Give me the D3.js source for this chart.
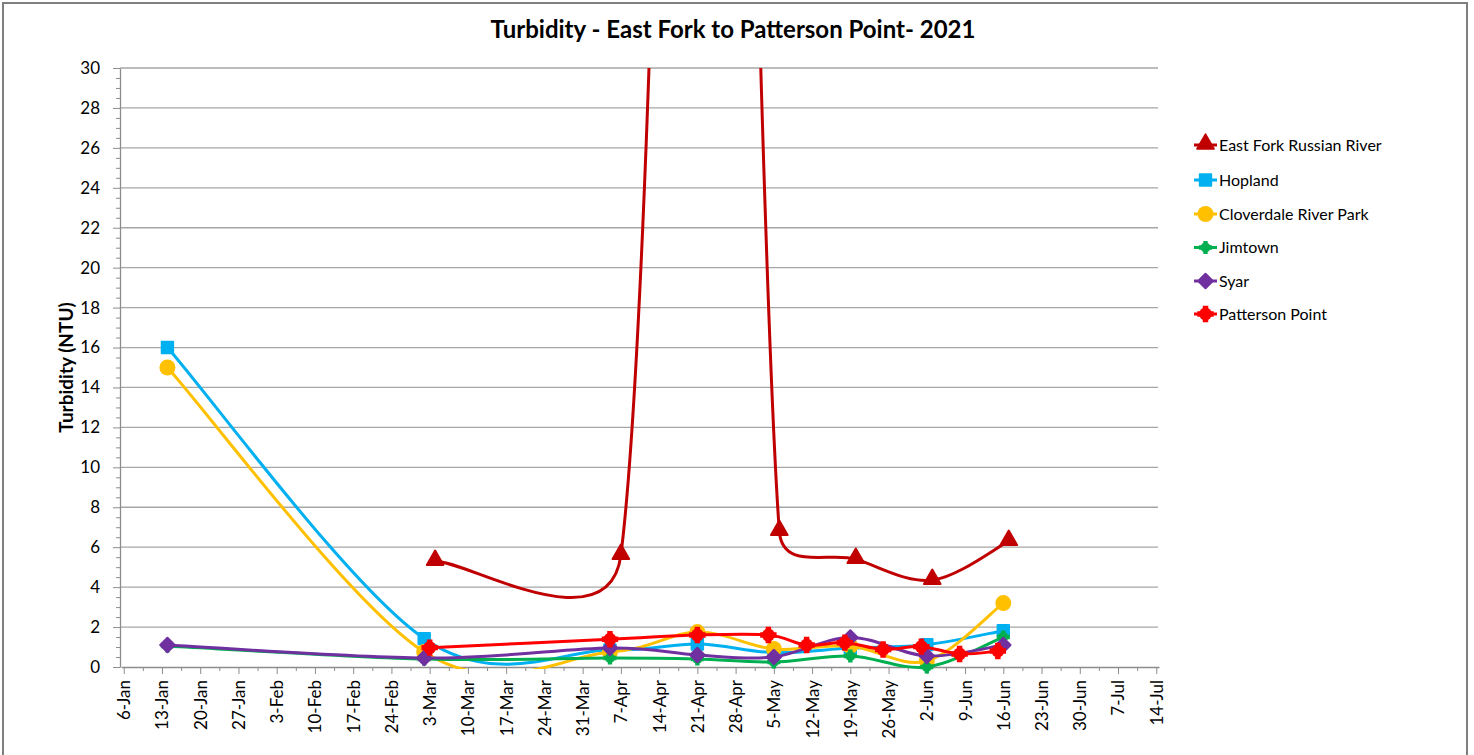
<!DOCTYPE html>
<html>
<head>
<meta charset="utf-8">
<script src="https://cdn.jsdelivr.net/npm/d3@7"></script>
<style>
  body { margin: 0; background: #fff; }
  svg { display: block; font-family: Lato, "Open Sans", sans-serif; }
</style>
</head>
<body>
<svg id="chart" width="1474" height="755"></svg>
<script>
// Sampling dates and readings (NTU)
const sampleDates = ["2021-01-14", "2021-03-02", "2021-04-05", "2021-04-21", "2021-05-05", "2021-05-19", "2021-06-02", "2021-06-16"];
const eastForkDates = ["2021-03-04", "2021-04-07", "2021-04-22", "2021-05-06", "2021-05-20", "2021-06-03", "2021-06-17"];
const pattersonDates = ["2021-03-03", "2021-04-05", "2021-04-21", "2021-05-04", "2021-05-11", "2021-05-18", "2021-05-25", "2021-06-01", "2021-06-08", "2021-06-15"];

const eastForkValues = [5.3, 5.6, 112, 6.8, 5.4, 4.35, 6.3];
const hoplandValues = [16, 1.42, 0.85, 1.15, 0.72, 0.95, 1.12, 1.82];
const cloverdaleValues = [15, 0.75, 0.75, 1.75, 0.9, 1.05, 0.3, 3.2];
const jimtownValues = [1.05, 0.4, 0.45, 0.4, 0.25, 0.55, 0.0, 1.5];
const syarValues = [1.1, 0.45, 0.95, 0.6, 0.5, 1.48, 0.55, 1.1];
const pattersonValues = [0.97, 1.39, 1.6, 1.6, 1.1, 1.22, 0.88, 1.02, 0.65, 0.8];

const yTicks = d3.range(0, 31, 2);

const seriesList = [
    { name: "East Fork Russian River", dates: eastForkDates, values: eastForkValues, color: "#C00000", marker: "triangle" },
    { name: "Hopland", dates: sampleDates, values: hoplandValues, color: "#00B0F0", marker: "square" },
    { name: "Cloverdale River Park", dates: sampleDates, values: cloverdaleValues, color: "#FFC000", marker: "circle" },
    { name: "Jimtown", dates: sampleDates, values: jimtownValues, color: "#00B050", marker: "smallstar" },
    { name: "Syar", dates: sampleDates, values: syarValues, color: "#7030A0", marker: "diamond" },
    { name: "Patterson Point", dates: pattersonDates, values: pattersonValues, color: "#FF0000", marker: "star" }
];

const parse = d3.utcParse("%Y-%m-%d");
const svg = d3.select("#chart");

// plot area
const plot = { left: 120, right: 1159, top: 68, bottom: 667 };

const x = d3.scaleUtc()
    .domain([new Date(Date.UTC(2021, 0, 5, 12)), new Date(Date.UTC(2021, 6, 14, 12))])
    .range([plot.left + 1, plot.right]);

const y = d3.scaleLinear()
    .domain([0, 30])
    .range([plot.bottom, plot.top]);

// outer border
svg.append("rect")
    .attr("x", 3).attr("y", 3)
    .attr("width", 1464).attr("height", 770)
    .attr("fill", "none")
    .attr("stroke", "#7f7f7f")
    .attr("stroke-width", 2);

// title
svg.append("text")
    .attr("x", 733).attr("y", 38)
    .attr("text-anchor", "middle")
    .attr("font-weight", "bold")
    .attr("font-size", 24)
    .text("Turbidity - East Fork to Patterson Point- 2021");

// gridlines
svg.append("g")
    .selectAll("line")
    .data(yTicks.filter(d => d > 0))
    .enter()
    .append("line")
    .attr("x1", plot.left).attr("x2", plot.right - 1)
    .attr("y1", d => y(d)).attr("y2", d => y(d))
    .attr("stroke", "#a6a6a6")
    .attr("stroke-width", 1.3);

// y axis
const yMinor = d3.range(0, 30.01, 0.5).filter(d => d % 2 !== 0);
svg.append("g")
    .attr("transform", `translate(${plot.left},0)`)
    .call(d3.axisLeft(y).tickValues(yMinor).tickSize(4).tickFormat("").tickSizeOuter(0))
    .call(g => g.select(".domain").remove())
    .selectAll("line").attr("stroke", "#8c8c8c");

const yAxisG = svg.append("g")
    .attr("transform", `translate(${plot.left},0)`)
    .call(d3.axisLeft(y).tickValues(yTicks).tickSize(7).tickPadding(13).tickSizeOuter(0));
yAxisG.select(".domain").attr("stroke", "#8c8c8c").attr("stroke-width", 1.3);
yAxisG.selectAll(".tick line").attr("stroke", "#8c8c8c");
yAxisG.selectAll("text").attr("font-size", 17).attr("font-family", "Lato").attr("fill", "#000");

// x axis
const weekTicks = d3.utcDay.range(new Date(Date.UTC(2021, 0, 6)), new Date(Date.UTC(2021, 6, 15)), 7);
const halfWeekTicks = weekTicks.slice(0, -1).map(d => d3.utcHour.offset(d, 84));

svg.append("g")
    .attr("transform", `translate(0,${plot.bottom})`)
    .call(d3.axisBottom(x).tickValues(halfWeekTicks).tickSize(4).tickFormat("").tickSizeOuter(0))
    .call(g => g.select(".domain").remove())
    .selectAll("line").attr("stroke", "#8c8c8c");

const xAxisG = svg.append("g")
    .attr("transform", `translate(0,${plot.bottom})`)
    .call(d3.axisBottom(x).tickValues(weekTicks).tickSize(7).tickFormat(d3.utcFormat("%-d-%b")).tickSizeOuter(0));
xAxisG.select(".domain").attr("stroke", "#8c8c8c").attr("stroke-width", 1.3);
xAxisG.selectAll(".tick line").attr("stroke", "#8c8c8c");
xAxisG.selectAll("text")
    .attr("font-size", 17)
    .attr("font-family", "Lato")
    .attr("fill", "#000")
    .attr("transform", "rotate(-90)")
    .attr("text-anchor", "end")
    .attr("x", -13)
    .attr("y", 0)
    .attr("dy", "0.35em");

// y axis title
svg.append("text")
    .attr("transform", `translate(73,${(plot.top + plot.bottom) / 2}) rotate(-90)`)
    .attr("text-anchor", "middle")
    .attr("font-weight", "bold")
    .attr("font-size", 19)
    .text("Turbidity (NTU)");

// clip for lines
svg.append("clipPath").attr("id", "plot-clip")
    .append("rect")
    .attr("x", plot.left).attr("y", plot.top)
    .attr("width", plot.right - plot.left).attr("height", plot.bottom - plot.top + 2);

// Excel style smoothing: Catmull-Rom tangents clamped to half the segment
function excelSmooth(pts) {
    const p = d3.path();
    p.moveTo(pts[0][0], pts[0][1]);
    for (let i = 0; i < pts.length - 1; i++) {
        const p0 = pts[Math.max(i - 1, 0)];
        const p1 = pts[i];
        const p2 = pts[i + 1];
        const p3 = pts[Math.min(i + 2, pts.length - 1)];
        const d12 = Math.hypot(p2[0] - p1[0], p2[1] - p1[1]);
        let t1 = [(p2[0] - p0[0]) / 6, (p2[1] - p0[1]) / 6];
        let t2 = [(p3[0] - p1[0]) / 6, (p3[1] - p1[1]) / 6];
        const l1 = Math.hypot(t1[0], t1[1]);
        const l2 = Math.hypot(t2[0], t2[1]);
        if (l1 > d12 / 2) t1 = t1.map(v => v * (d12 / 2) / l1);
        if (l2 > d12 / 2) t2 = t2.map(v => v * (d12 / 2) / l2);
        p.bezierCurveTo(p1[0] + t1[0], p1[1] + t1[1], p2[0] - t2[0], p2[1] - t2[1], p2[0], p2[1]);
    }
    return p.toString();
}

// marker drawing
function drawMarker(g, type, color) {
    if (type === "triangle") {
        g.append("path").attr("d", d3.symbol(d3.symbolTriangle, 120)())
            .attr("transform", "translate(0,-1)")
            .attr("fill", color).attr("stroke", color).attr("stroke-width", 2).attr("stroke-linejoin", "round");
    } else if (type === "square") {
        g.append("path").attr("d", d3.symbol(d3.symbolSquare, 130)())
            .attr("fill", color).attr("stroke", color).attr("stroke-width", 2).attr("stroke-linejoin", "round");
    } else if (type === "circle") {
        g.append("circle").attr("r", 8).attr("fill", color);
    } else if (type === "diamond") {
        g.append("path").attr("d", d3.symbol(d3.symbolSquare, 105)())
            .attr("transform", "rotate(45)")
            .attr("fill", color).attr("stroke", color).attr("stroke-width", 2).attr("stroke-linejoin", "round");
    } else if (type === "star") {
        g.append("circle").attr("r", 6.5).attr("fill", color);
        g.append("path").attr("d", d3.symbol(d3.symbolCross, 150)()).attr("fill", color);
    } else if (type === "smallstar") {
        g.append("circle").attr("r", 5).attr("fill", color);
        g.append("path").attr("d", d3.symbol(d3.symbolCross, 95)()).attr("fill", color);
    }
}

// series
seriesList.forEach(s => {
    const pts = s.dates.map((d, i) => [x(parse(d)), y(s.values[i])]);
    const g = svg.append("g");
    g.append("path")
        .attr("clip-path", "url(#plot-clip)")
        .attr("d", excelSmooth(pts))
        .attr("fill", "none")
        .attr("stroke", s.color)
        .attr("stroke-width", 3)
        .attr("stroke-linecap", "round");
    g.selectAll(".marker")
        .data(pts.filter(p => p[1] >= plot.top))
        .enter()
        .append("g")
        .attr("class", "marker")
        .attr("transform", p => `translate(${p[0]},${p[1]})`)
        .each(function () { drawMarker(d3.select(this), s.marker, s.color); });
});

// legend
const legendRows = [145, 180, 214, 247.5, 281, 314];
const legend = svg.append("g");
seriesList.forEach((s, i) => {
    const row = legend.append("g").attr("transform", `translate(1194,${legendRows[i]})`);
    row.append("line").attr("x1", 0).attr("x2", 23).attr("stroke", s.color).attr("stroke-width", 3);
    const m = row.append("g").attr("transform", "translate(11.5,0)");
    drawMarker(m, s.marker, s.color);
    row.append("text")
        .attr("x", 25).attr("y", 0).attr("dy", "0.35em")
        .attr("font-size", 16)
        .text(s.name);
});
</script>
</body>
</html>
